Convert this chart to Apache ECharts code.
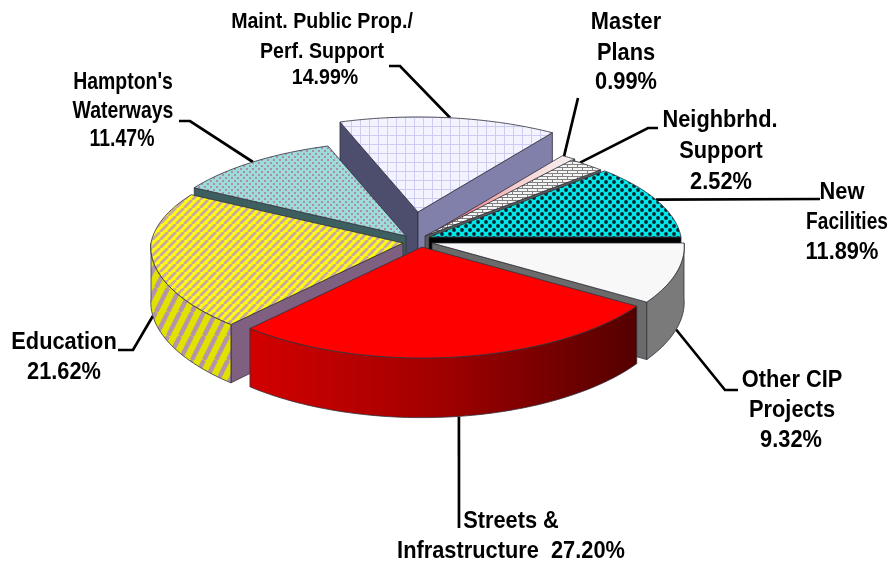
<!DOCTYPE html>
<html>
<head>
<meta charset="utf-8">
<style>html,body{margin:0;padding:0;background:#fff}#chart{width:894px;height:568px}</style>
<script src="https://cdn.jsdelivr.net/npm/echarts@6/dist/echarts.min.js"></script>
</head>
<body>
<div id="chart"></div>
<script>
// Capital programme shares, listed clockwise from the 3 o'clock edge of the pie.
const categories = ['Other CIP Projects', 'Streets & Infrastructure', 'Education', "Hampton's Waterways",
  'Maint. Public Prop./ Perf. Support', 'Master Plans', 'Neighbrhd. Support', 'New Facilities'];
const shares = [9.32, 27.20, 21.62, 11.47, 14.99, 0.99, 2.52, 11.89];

// Drawing order: rear wedges first so the front wedges overlap them.
const paintOrder = [4, 3, 5, 6, 7, 2, 0, 1];

// Pie projection.
const RX = 252, KY = 102.4, PERSPECTIVE = 0.0775, FRONT_WIDEN = 0.04, DEPTH = 55;

// Screen position of each wedge's tip once pulled out of the pie.
const tips = [[432, 243], [422, 247], [403, 243], [406, 236], [418, 212], [428, 235], [425, 236], [429, 237]];

function tile(w, h, paint) {
  const c = document.createElement('canvas');
  c.width = w; c.height = h;
  paint(c.getContext('2d'), w, h);
  return { image: c, repeat: 'repeat' };
}
function stripes(bg, fg, w, h, lw) {
  return tile(w, h, (g) => {
    g.fillStyle = bg; g.fillRect(0, 0, w, h);
    g.strokeStyle = fg; g.lineWidth = lw;
    for (const off of [-w, 0, w]) {
      g.beginPath(); g.moveTo(off, h); g.lineTo(off + w, 0); g.stroke();
    }
  });
}
const gridFill = tile(9, 9, (g) => {
  g.fillStyle = '#f3f3ff'; g.fillRect(0, 0, 9, 9);
  g.fillStyle = '#cbcbf4'; g.fillRect(0, 0, 9, 1); g.fillRect(0, 0, 1, 9);
});
const speckFill = tile(6, 6, (g) => {
  g.fillStyle = '#9edcd8'; g.fillRect(0, 0, 6, 6);
  g.fillStyle = '#ab8db0'; g.fillRect(0, 0, 2, 2); g.fillRect(3, 3, 2, 2);
});
const dotFill = tile(8, 8, (g) => {
  g.fillStyle = '#00e8e8'; g.fillRect(0, 0, 8, 8);
  g.fillStyle = '#04222e';
  for (const [x, y] of [[2, 2], [6, 6]]) { g.beginPath(); g.arc(x, y, 1.9, 0, Math.PI * 2); g.fill(); }
});
const shingleFill = tile(10, 6, (g) => {
  g.fillStyle = '#f4f4f4'; g.fillRect(0, 0, 10, 6);
  g.fillStyle = '#808080';
  g.fillRect(0, 2, 10, 1); g.fillRect(0, 5, 10, 1); g.fillRect(2, 0, 1, 3); g.fillRect(7, 3, 1, 3);
});
const topStripes = stripes('#ffff08', '#c9a8a4', 8, 8, 2.9);
const wallStripes = stripes('#e2e200', '#b494a8', 12, 24, 4.4);

// Fills per wedge: top face, curved rim, the wall on the leading and on the trailing radius.
const faces = [
  { top: '#f8f8f8', rim: '#7a7a7a', lead: '#6b6b6b', trail: '#6b6b6b' },
  { top: '#ff0000',
    rim: { type: 'linear', x: 0, y: 0, x2: 1, y2: 0, colorStops: [
      { offset: 0, color: '#d20000' }, { offset: 0.5, color: '#a00000' }, { offset: 1, color: '#540000' }] },
    lead: '#8a0000', trail: '#8a0000' },
  { top: topStripes, rim: wallStripes, lead: '#7f6080', trail: '#7f6080' },
  { top: speckFill, rim: '#3d5f5f', lead: '#3d5f5f', trail: '#3d5f5f' },
  { top: gridFill, rim: '#8080aa', lead: '#4d4d6e', trail: '#8080aa' },
  { top: { type: 'linear', x: 0, y: 1, x2: 1, y2: 0, colorStops: [
      { offset: 0, color: '#d84858' }, { offset: 0.6, color: '#f8d0d0' }, { offset: 1, color: '#f6f2f2' }] },
    rim: '#222222', lead: '#222222', trail: '#222222' },
  { top: shingleFill, rim: '#5c5c5c', lead: '#5c5c5c', trail: '#5c5c5c' },
  { top: dotFill, rim: '#000000', lead: '#000000', trail: '#000000' }
];

// Percent label and text lines for each wedge: text, centre x, centre y, optional width factor.
const labelLines = [
  [['Other CIP', 792, 380], ['Projects', 792, 410], ['%', 791, 440]],
  [['Streets &', 511, 521], ['Infrastructure  %', 511, 551]],
  [['Education', 64, 342], ['%', 64, 372]],
  [["Hampton's", 123, 82, 0.81], ['Waterways', 123, 111, 0.81], ['%', 122, 139, 0.81]],
  [['Maint. Public Prop./', 322, 22], ['Perf. Support', 322, 52], ['%', 325, 78]],
  [['Master', 626, 22], ['Plans', 626, 53], ['%', 626, 82]],
  [['Neighbrhd.', 720, 120], ['Support', 721, 151], ['%', 721, 182]],
  [['New', 842, 192], ['Facilities', 847, 222, 0.78], ['%', 842, 252]]
];
const labelFontSize = [24.5, 24.5, 24.5, 24, 22, 24.5, 24.5, 24.5];

// Leader lines: outer bend points, a nudge of the rim anchor in degrees, and whether it meets the rim's lower edge.
const leaderBends = [
  [[738, 390], [725, 390]], [[459, 528]], [[118, 350], [133, 350]], [[179, 121], [190, 121]],
  [[389, 66], [400, 66]], [[578, 98]], [[658, 128], [648, 128]], [[820, 199]]
];
const leaderNudge = [0, -0.6, 0, 0, 0.3, -1.3, -2, -0.7];
const leaderLower = [true, true, true, false, false, false, false, false];

const total = shares.reduce((a, b) => a + b, 0);
const starts = [];
shares.reduce((acc, v, i) => { starts[i] = acc; return acc + v; }, 0);
const toAngle = (share) => share / total * Math.PI * 2;

function project(i, theta, drop) {
  const sin = Math.sin(theta), cos = Math.cos(theta);
  const s = 1 / (1 - PERSPECTIVE * sin);
  // Horizontal foreshortening is strong behind the centre and mild in front of it.
  const sx = sin > 0 ? 1 / (1 - FRONT_WIDEN * sin) : s;
  return [tips[i][0] + RX * sx * cos, tips[i][1] + KY * s * sin + (drop ? DEPTH * s : 0)];
}

function wedge(i, z) {
  const a0 = toAngle(starts[i]), a1 = toAngle(starts[i] + shares[i]);
  const edge = { stroke: '#30303a', lineWidth: 0.8 };
  const tip = tips[i], tipLow = [tip[0], tip[1] + DEPTH];
  const kids = [];
  const poly = (points, fill, order) => kids.push({
    type: 'polygon', z2: z * 10 + order, shape: { points }, style: Object.assign({ fill }, edge)
  });
  // A radial wall shows only when its outward normal points at the viewer.
  if (-Math.cos(a0) > 0.02) poly([tip, project(i, a0), project(i, a0, true), tipLow], faces[i].lead, 0);
  if (Math.cos(a1) > 0.02) poly([tip, project(i, a1), project(i, a1, true), tipLow], faces[i].trail, 0);
  // Curved rim: only the part of the arc that faces the viewer.
  const from = Math.max(a0, 0), to = Math.min(a1, Math.PI);
  if (to > from) {
    const upper = [], lower = [], n = Math.max(8, Math.ceil((to - from) * 40));
    for (let k = 0; k <= n; k++) {
      const t = from + (to - from) * k / n;
      upper.push(project(i, t));
      lower.unshift(project(i, t, true));
    }
    poly(upper.concat(lower), faces[i].rim, 1);
  }
  const arc = [tip], n = Math.max(6, Math.ceil((a1 - a0) * 40));
  for (let k = 0; k <= n; k++) arc.push(project(i, a0 + (a1 - a0) * k / n));
  poly(arc, faces[i].top, 2);
  return { type: 'group', children: kids };
}

function annotation(i) {
  const mid = toAngle(starts[i] + shares[i] / 2) + leaderNudge[i] * Math.PI / 180;
  const points = leaderBends[i].concat([project(i, mid, leaderLower[i])]);
  const kids = [{
    type: 'polyline', shape: { points },
    style: { stroke: '#000', lineWidth: 2.7, fill: 'none', lineJoin: 'miter' }
  }];
  for (const [line, x, y, widthFactor] of labelLines[i]) {
    const text = line.replace('%', shares[i].toFixed(2) + '%');
    kids.push({
      type: 'text', x, y, scaleX: widthFactor || 0.89,
      style: { text, fill: '#000', font: 'bold ' + labelFontSize[i] + 'px "Liberation Sans"', textAlign: 'center', textVerticalAlign: 'middle' }
    });
  }
  return { type: 'group', children: kids };
}

const chart = echarts.init(document.getElementById('chart'));
chart.setOption({
  backgroundColor: '#fff',
  animation: false,
  series: [
    {
      type: 'custom', coordinateSystem: 'none', z: 1, silent: true,
      data: categories.map((name, i) => ({ name, value: shares[i] })),
      renderItem: (params) => annotation(params.dataIndex)
    },
    {
      type: 'custom', coordinateSystem: 'none', z: 2, silent: true,
      data: categories.map((name, i) => ({ name, value: shares[i] })),
      renderItem: (params) => wedge(params.dataIndex, paintOrder.indexOf(params.dataIndex))
    }
  ]
});
</script>
</body>
</html>
